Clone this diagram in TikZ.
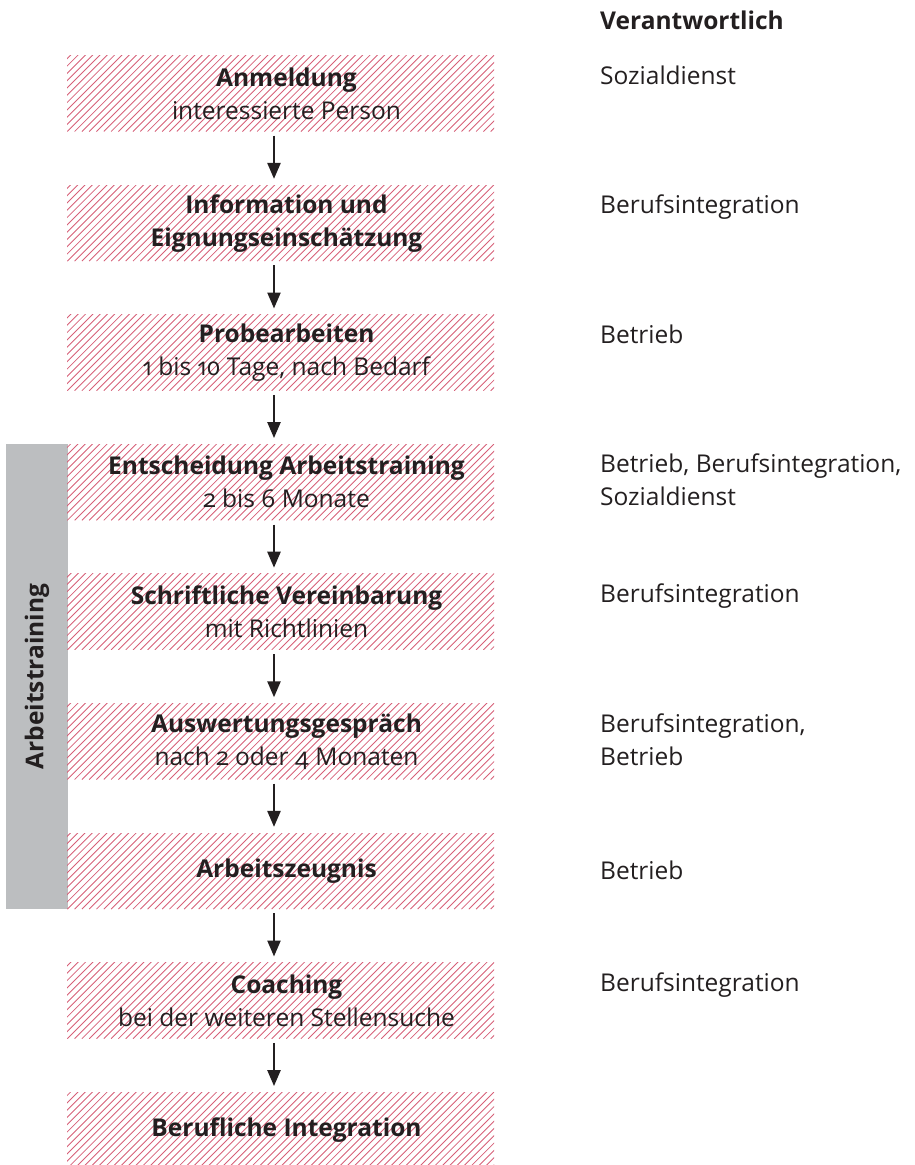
\documentclass[tikz,border=0pt]{standalone}
\usepackage{fontspec}
\setmainfont{Open Sans}[Numbers=OldStyle]
\usetikzlibrary{arrows.meta}
\definecolor{hatchred}{RGB}{214,96,120}
\definecolor{ink}{RGB}{35,31,32}
\definecolor{bargray}{RGB}{188,190,192}
\begin{document}
\begin{tikzpicture}[x=1pt,y=1pt,
  box/.style={minimum width=427pt, minimum height=76pt, inner sep=0pt,
    path picture={\foreach \k in {0,...,72}{\draw[hatchred, line width=0.85pt]
      ([xshift=\k*7.3pt-80pt]path picture bounding box.south west) -- ++(90pt,90pt);}}},
  txt/.style={font=\fontsize{24.5}{33}\selectfont},
  btxt/.style={font=\fontsize{24.5}{33}\selectfont\bfseries},
  lbl/.style={txt, text=ink, align=center, inner sep=0pt},
  resp/.style={txt, text=ink, align=left, anchor=base west, inner sep=0pt},
  head/.style={btxt, text=ink, anchor=base west, inner sep=0pt},
  flow/.style={line width=2.4pt, draw=ink, -{Triangle[length=16pt,width=13pt]},
    shorten <=4pt, shorten >=6pt}]
\useasboundingbox (0,0) rectangle (914,-1165);
\clip (0,0) rectangle (914,-1165);

% gray bracket bar
\node[fill=bargray, minimum width=465pt, minimum height=62pt, inner sep=0pt, rotate=90,
  btxt, text=ink] (bar) at (37,-676.5) {Arbeitstraining};

% boxes
\node[box] (b1) at (280.5,-93.5) {};
\node[box] (b2) at (280.5,-223.1) {};
\node[box] (b3) at (280.5,-352.7) {};
\node[box] (b4) at (280.5,-482.3) {};
\node[box] (b5) at (280.5,-611.9) {};
\node[box] (b6) at (280.5,-741.5) {};
\node[box] (b7) at (280.5,-871.1) {};
\node[box] (b8) at (280.5,-1000.7) {};
\node[box] (b9) at (280.5,-1130.3) {};

% box texts
\node[lbl] (t1) at ([xshift=6pt]b1.center) {\textbf{Anmeldung}\\interessierte Person};
\node[lbl] (t2) at ([xshift=6pt]b2.center) {\textbf{Information und}\\\textbf{Eignungseinschätzung}};
\node[lbl] (t3) at ([xshift=6pt]b3.center) {\textbf{Probearbeiten}\\1 bis 10 Tage, nach Bedarf};
\node[lbl] (t4) at ([xshift=6pt]b4.center) {\textbf{Entscheidung Arbeitstraining}\\2 bis 6 Monate};
\node[lbl] (t5) at ([xshift=6pt]b5.center) {\textbf{Schriftliche Vereinbarung}\\mit Richtlinien};
\node[lbl] (t6) at ([xshift=6pt]b6.center) {\textbf{Auswertungsgespräch}\\nach 2 oder 4 Monaten};
\node[lbl] (t7) at ([xshift=6pt]b7.center) {\textbf{Arbeitszeugnis}};
\node[lbl] (t8) at ([xshift=6pt]b8.center) {\textbf{Coaching}\\bei der weiteren Stellensuche};
\node[lbl] (t9) at ([xshift=6pt]b9.center) {\textbf{Berufliche Integration}};

% arrows
\foreach \a/\b in {b1/b2,b2/b3,b3/b4,b4/b5,b5/b6,b6/b7,b7/b8,b8/b9}
  \draw[flow] ([xshift=-6.5pt]\a.south) -- ([xshift=-6.5pt]\b.north);

% responsible column (base anchor = baseline of last line)
\node[head] (h) at (600,-29) {Verantwortlich};
\node[resp] (r1) at (600,-84) {Sozialdienst};
\node[resp] (r2) at (600,-213.6) {Berufsintegration};
\node[resp] (r3) at (600,-343.2) {Betrieb};
\node[resp] (r4) at (600,-505.8) {Betrieb, Berufsintegration,\\Sozialdienst};
\node[resp] (r5) at (600,-602.4) {Berufsintegration};
\node[resp] (r6) at (600,-765) {Berufsintegration,\\Betrieb};
\node[resp] (r7) at (600,-879.6) {Betrieb};
\node[resp] (r8) at (600,-991.2) {Berufsintegration};
\end{tikzpicture}
\end{document}
